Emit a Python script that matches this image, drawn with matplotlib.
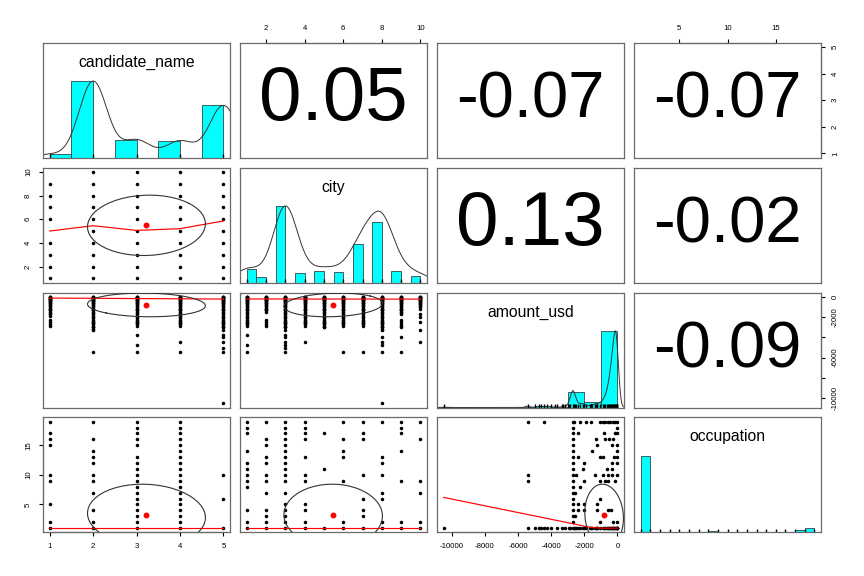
import matplotlib.pyplot as plt
import numpy as np

plt.rcParams['font.family'] = ['Liberation Sans', 'DejaVu Sans']
plt.rcParams['axes.unicode_minus'] = False

var_names = ['candidate_name', 'city', 'amount_usd', 'occupation']

# distinct values and how often they occur
cand_vals = [1, 2, 3, 4, 5]
cand_counts = [90, 2070, 477, 450, 1413]
city_vals = [1, 2, 3, 4, 5, 6, 7, 8, 9, 10]
city_counts = [243, 108, 1413, 171, 207, 189, 711, 1116, 216, 126]
occ_vals = [1, 2, 3, 4, 5, 6, 7, 8, 9, 10, 11, 12, 13, 14, 15, 16, 17, 18, 19]
occ_counts = [3740, 40, 25, 30, 25, 20, 30, 20, 45, 40, 15, 25, 25, 15, 25, 30, 30, 115, 230]
amount_vals = [-10490, -5420, -5000, -4750, -4610, -4450, -4250, -4010, -3740, -3650,
               -3350, -3300, -3150, -3000, -2950, -2880, -2700, -2620, -2560, -2500,
               -2360, -2260, -2100, -2040, -1910, -1650, -1610, -1510, -1350, -1290,
               -1250, -1210, -1050, -900, -800, -740, -640, -580, -500, -440,
               -400, -340, -280, -240, -200, -150, -100, -50, -40, -25, 0]
amount_counts = [8, 40, 8, 8, 8, 16, 8, 16, 8, 8,
                 8, 8, 8, 8, 30, 40, 400, 40, 40, 40,
                 40, 40, 40, 40, 24, 24, 16, 32, 32, 16,
                 16, 32, 64, 64, 64, 80, 96, 104, 160, 160,
                 200, 200, 240, 240, 280, 360, 440, 480, 120, 240, 200]
hist_steps = [0.5, 0.5, 1000, 1]

# correlations shown in the upper panels
cors = {(0, 1): 0.05, (0, 2): -0.07, (0, 3): -0.07,
        (1, 2): 0.13, (1, 3): -0.02, (2, 3): -0.09}

# scatter points (distinct combinations)
cand_city = [[1, 2, 3, 4, 6, 7, 8, 9],
             [1, 2, 3, 4, 5, 6, 7, 8, 9, 10],
             [1, 2, 3, 4, 5, 6, 7, 8, 9, 10],
             [1, 2, 3, 4, 5, 6, 7, 8, 9, 10],
             [1, 2, 3, 4, 5, 6, 7, 8, 9, 10]]
cand_occ = [[1, 2, 5, 9, 10, 15, 16, 17, 19],
            [1, 2, 4, 7, 9, 10, 12, 13, 14, 16, 19],
            [1, 2, 3, 4, 5, 6, 7, 8, 9, 10, 11, 12, 13, 15, 16, 17, 18, 19],
            [1, 2, 3, 4, 5, 6, 7, 8, 9, 10, 11, 12, 13, 14, 15, 16, 17, 18, 19],
            [1, 6, 10]]
city_occ = [[1, 2, 4, 8, 9, 10, 11, 12, 14, 17, 18, 19],
            [1, 2, 3, 4, 7, 9, 10, 12, 13, 15, 16, 19],
            [1, 2, 3, 4, 5, 7, 9, 10, 11, 12, 13, 14, 15, 16, 17, 18, 19],
            [1, 2, 4, 5, 9, 10, 13, 16, 17, 18, 19],
            [1, 11, 17],
            [1, 2, 9, 13, 14, 16, 19],
            [1, 3, 4, 6, 10, 16, 17, 19],
            [1, 2, 6, 7, 10, 12, 13, 19],
            [1, 2, 9, 14, 17, 18, 19],
            [1, 2, 7, 9, 16, 19]]
# amounts: every listed amount down to a floor, plus the stray ones
cand_amt_floor = [-1910, -3300, -2880, -2880, -3000]
cand_amt_extra = [[-2260, -2500, -2700, -2880],
                  [-5420],
                  [-3740, -4750, -5420],
                  [-4450, -5420],
                  [-3300, -3740, -4010, -4450, -5000, -5420, -10490]]
city_amt_floor = [-2880, -1510, -3000, -2880, -3000, -2880, -2880, -3300, -1650, -1210]
city_amt_extra = [[-3740, -4750, -5420],
                  [-2260, -2500, -2700, -2880],
                  [-3300, -3740, -4010, -4450, -4750, -5000, -5420],
                  [-4450],
                  [],
                  [-5420],
                  [-5420],
                  [-4010, -4450, -4750, -5420, -10490],
                  [-2260, -2500, -2700, -2880, -3000, -4010, -5420],
                  [-1650, -2040, -2500, -3300, -4450]]
occ_amt = [[-10490, -5420, -5000, -4750, -4610, -4450, -4250, -4010, -3650, -3350, -3150, -2950],
           [-2700, -1050, -240, -40],
           [-2700, -2560],
           [-2700, -2360, -2040, -1210, -580, -400],
           [-2700, -2360, -2040, -1250],
           [-2700, -1050],
           [-2700, -2560],
           [-2700, -2260],
           [-5420, -2700, -2040, -1050, -740, -580, -150],
           [-5420, -2700, -2500, -1350, -900, -580, -340, -40],
           [-2700, -2100, -640, -340],
           [-2700, -2040, -340, -40],
           [-2700, -2360, -1050, -900, -200, -40],
           [-2700, -1510, 0],
           [-2700, -1210, -340, -40],
           [-2700, -1290, -740, -500, -280],
           [-2700, -2360, -800, -150, 0],
           [-2700, -40],
           [-5420, -4450, -2700, -2620, -2260, -1910, -1610, -1050, -900, -740, -580, -440, -280, -150, 0]]
occ1_amt_floor = -2880

# smoothed (lowess) lines
low_cand_city = [5.0, 5.45, 5.05, 5.2, 5.85]
low_cand_amt = [-130, -150, -180, -200, -230]
low_cand_occ = [1, 1, 1, 1, 1]
low_city_amt = [-220, -220, -220, -225, -225, -225, -225, -230, -230, -230]
low_city_occ = [1, 1, 1, 1, 1, 1, 1, 1, 1, 1]
low_amt_x = [-10490, -1650, -1000, 0]
low_amt_occ = [6.2, 1.15, 1.0, 1.0]

axis_ticks = [[1, 2, 3, 4, 5], [2, 4, 6, 8, 10],
              [-10000, -8000, -6000, -4000, -2000, 0], [5, 10, 15]]
amount_side_hidden = [-8000, -4000]

vals = [cand_vals, city_vals, amount_vals, occ_vals]
counts = [cand_counts, city_counts, amount_counts, occ_counts]
rows = [np.repeat(v, c).astype(float) for v, c in zip(vals, counts)]
means = [r.mean() for r in rows]
sds = [r.std(ddof=1) for r in rows]
lims = []
for v in vals:
    lo, hi = min(v), max(v)
    lims.append((lo - 0.04 * (hi - lo), hi + 0.04 * (hi - lo)))


def dense(floor):
    return [a for a in amount_vals if a >= floor]


def flat(xcats, lists):
    xs = [x for x, l in zip(xcats, lists) for _ in l]
    ys = [y for l in lists for y in l]
    return xs, ys


cand_amt = [dense(f) + e for f, e in zip(cand_amt_floor, cand_amt_extra)]
city_amt = [dense(f) + e for f, e in zip(city_amt_floor, city_amt_extra)]
occ_amt[0] = dense(occ1_amt_floor) + occ_amt[0]
ya, xa = flat(occ_vals, occ_amt)

pts = {(1, 0): flat(cand_vals, cand_city),
       (2, 0): flat(cand_vals, cand_amt),
       (3, 0): flat(cand_vals, cand_occ),
       (2, 1): flat(city_vals, city_amt),
       (3, 1): flat(city_vals, city_occ),
       (3, 2): (xa, ya)}
smooth = {(1, 0): (cand_vals, low_cand_city),
          (2, 0): (cand_vals, low_cand_amt),
          (3, 0): (cand_vals, low_cand_occ),
          (2, 1): (city_vals, low_city_amt),
          (3, 1): (city_vals, low_city_occ),
          (3, 2): (low_amt_x, low_amt_occ)}


def ellipse(xm, ym, xs, ys, r, seg=51):
    a = np.linspace(0, 2 * np.pi, seg + 1)
    th = (np.sign(r) if r != 0 else 1) / np.sqrt(2)
    shape = np.diag([np.sqrt(1 + r), np.sqrt(1 - r)]) @ np.array([[th, th], [-th, th]])
    e = np.column_stack([np.cos(a), np.sin(a)]) @ shape
    return e[:, 0] * xs + xm, e[:, 1] * ys + ym


def density(x):
    n = len(x)
    q1, q3 = np.percentile(x, [25, 75])
    h = min(x.std(ddof=1), (q3 - q1) / 1.34)
    bw = 1.06 * h * n ** -0.2 * 1.2
    if bw <= 0:
        return None
    g = np.linspace(x.min() - 3 * bw, x.max() + 3 * bw, 512)
    u, c = np.unique(x, return_counts=True)
    d = (c[None, :] * np.exp(-0.5 * ((g[:, None] - u[None, :]) / bw) ** 2)).sum(axis=1)
    return g, d / d.max()


fig = plt.figure(figsize=(8.64, 5.76), dpi=100)
W, H = 864, 576
left0, top0, pw, ph, dx, dy = 42.7, 42.7, 187.7, 115.0, 197.0, 124.9
box_col = '#6a6a6a'
tick_kw = dict(direction='out', length=3.2, width=0.8, labelsize=5.6, pad=4.5, color='black')

renderer = fig.canvas.get_renderer()

for i in range(4):
    for j in range(4):
        ax = fig.add_axes([(left0 + j * dx) / W, 1 - (top0 + i * dy + ph) / H, pw / W, ph / H])
        ax.set_xlim(lims[j])
        ax.set_ylim((0, 1.5) if i == j else lims[i])
        ax.set_xticks([])
        ax.set_yticks([])
        for s in ax.spines.values():
            s.set_color(box_col)
            s.set_linewidth(0.9)

        if i == j:
            x = rows[i]
            step = hist_steps[i]
            lo = np.floor(x.min() / step) * step
            hi = np.ceil(x.max() / step) * step
            edges = np.arange(lo, hi + step / 2, step)
            idx = np.clip(np.searchsorted(edges, x, side='left') - 1, 0, len(edges) - 2)
            hc = np.bincount(idx, minlength=len(edges) - 1)
            ax.bar(edges[:-1], hc / hc.max(), width=np.diff(edges), align='edge',
                   color='cyan', edgecolor='#222222', linewidth=0.5)
            d = density(x)
            if d is not None:
                ax.plot(d[0], d[1], color='#333333', lw=0.7)
            ax.vlines(vals[i], 0, 0.03, transform=ax.get_xaxis_transform(),
                      color='black', lw=1.0)
            ax.text(0.5, 0.83, var_names[i], transform=ax.transAxes,
                    ha='center', va='center', fontsize=11.3)
        elif i < j:
            txt = f"{cors[(i, j)]:.2f}"
            t = ax.text(0.5, 0.5, txt, transform=ax.transAxes, ha='center',
                        va='center', fontsize=40)
            w = t.get_window_extent(renderer).width
            t.set_fontsize(40 * 0.79 * pw / w)
        else:
            px, py = pts[(i, j)]
            ax.scatter(px, py, s=6.5, color='black', linewidths=0, zorder=2)
            sx, sy = smooth[(i, j)]
            ax.plot(sx, sy, color='red', lw=0.85, zorder=3)
            r = cors[(j, i)]
            ex, ey = ellipse(means[j], means[i], sds[j], sds[i], r)
            ax.plot(ex, ey, color='#333333', lw=0.8, zorder=3)
            ax.scatter([means[j]], [means[i]], s=18, color='red', linewidths=0, zorder=4)

        # outer axes, R pairs style
        tr_x = ax.get_xaxis_transform()
        tr_y = ax.get_yaxis_transform()
        if i == 3 and j % 2 == 0:
            tk = axis_ticks[j]
            ax.set_xticks(tk)
            ax.set_xticklabels([str(v) for v in tk])
            ax.tick_params(axis='x', bottom=True, labelbottom=True, **tick_kw)
            ax.plot([tk[0], tk[-1]], [0, 0], transform=tr_x, color='black', lw=0.8, clip_on=False)
        if i == 0 and j % 2 == 1:
            tk = axis_ticks[j]
            ax.set_xticks(tk)
            ax.set_xticklabels([str(v) for v in tk])
            ax.tick_params(axis='x', top=True, labeltop=True, bottom=False,
                           labelbottom=False, **tick_kw)
            ax.plot([tk[0], tk[-1]], [1, 1], transform=tr_x, color='black', lw=0.8, clip_on=False)
        if j == 0 and i % 2 == 1:
            tk = axis_ticks[i]
            ax.set_yticks(tk)
            ax.set_yticklabels([str(v) for v in tk], rotation=90, va='center')
            ax.tick_params(axis='y', left=True, labelleft=True, **tick_kw)
            ax.plot([0, 0], [tk[0], tk[-1]], transform=tr_y, color='black', lw=0.8, clip_on=False)
        if j == 3 and i % 2 == 0:
            tk = axis_ticks[i]
            labs = ['' if v in amount_side_hidden and i == 2 else str(v) for v in tk]
            ax.set_yticks(tk)
            ax.set_yticklabels(labs, rotation=90, va='center')
            ax.tick_params(axis='y', right=True, labelright=True, left=False,
                           labelleft=False, **tick_kw)
            ax.plot([1, 1], [tk[0], tk[-1]], transform=tr_y, color='black', lw=0.8, clip_on=False)

fig.savefig('out.png', dpi=100)
